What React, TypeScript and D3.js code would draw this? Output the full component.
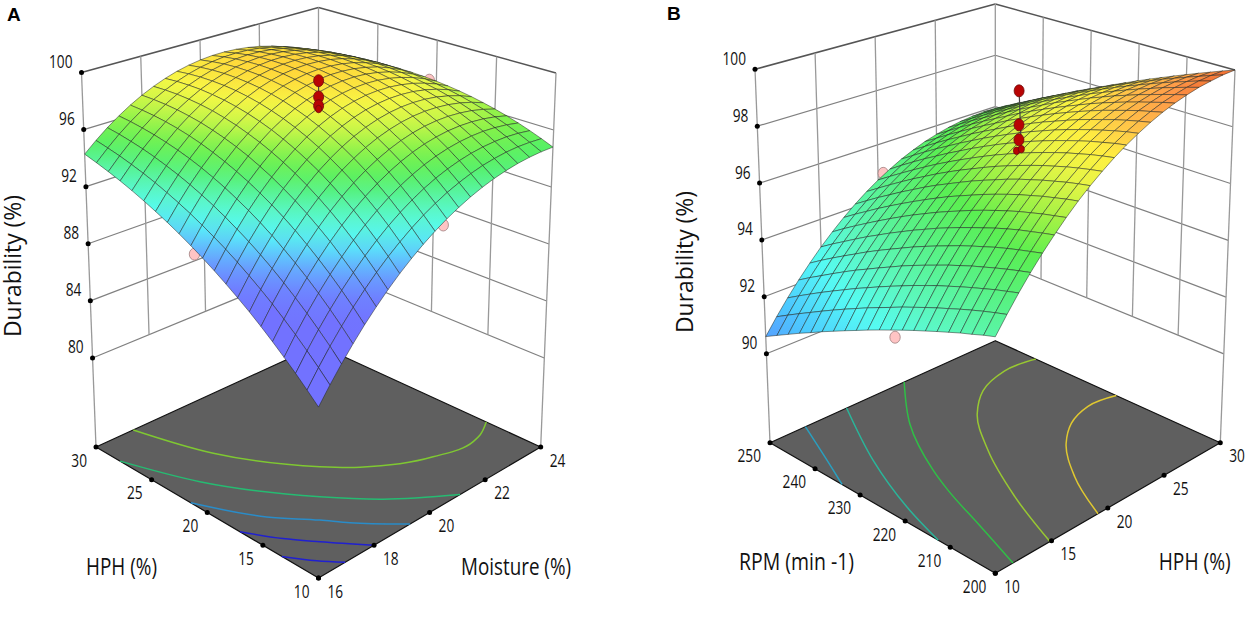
import * as d3 from 'd3';

// Tick labels
const moistureTicks = [16, 18, 20, 22, 24];
const hphTicks = [10, 15, 20, 25, 30];
const rpmTicks = [200, 210, 220, 230, 240, 250];
const durabilityTicksA = [80, 84, 88, 92, 96, 100];
const durabilityTicksB = [90, 92, 94, 96, 98, 100];

// Panel A surface: one row per moisture step (16 to 24), one column per HPH step (10 to 30)
const durabilityA = [
  [84.49,85.21,85.91,86.58,87.23,87.86,88.46,89.03,89.58,90.11,90.61,91.09,91.54,91.97,92.37,92.75,93.11,93.44,93.74,94.02,94.28],
  [85.53,86.28,87.00,87.69,88.35,88.99,89.59,90.16,90.71,91.23,91.71,92.17,92.60,93.00,93.37,93.72,94.03,94.31,94.57,94.79,94.99],
  [86.51,87.29,88.02,88.73,89.40,90.04,90.65,91.22,91.76,92.26,92.74,93.18,93.58,93.96,94.30,94.60,94.88,95.12,95.32,95.50,95.64],
  [87.44,88.23,88.98,89.70,90.38,91.02,91.62,92.19,92.72,93.22,93.67,94.10,94.48,94.83,95.14,95.41,95.64,95.84,96.00,96.13,96.22],
  [88.32,89.12,89.88,90.60,91.28,91.92,92.53,93.09,93.61,94.09,94.53,94.93,95.29,95.61,95.90,96.14,96.34,96.50,96.62,96.70,96.74],
  [89.13,89.94,90.71,91.43,92.12,92.75,93.35,93.90,94.41,94.88,95.30,95.69,96.03,96.32,96.57,96.79,96.95,97.08,97.16,97.20,97.20],
  [89.90,90.71,91.48,92.20,92.88,93.51,94.10,94.64,95.14,95.59,96.00,96.36,96.67,96.95,97.17,97.36,97.49,97.58,97.63,97.63,97.59],
  [90.61,91.42,92.18,92.90,93.57,94.19,94.77,95.30,95.78,96.21,96.60,96.95,97.24,97.49,97.69,97.85,97.95,98.02,98.03,98.00,97.92],
  [91.26,92.06,92.82,93.53,94.18,94.80,95.36,95.87,96.34,96.76,97.13,97.45,97.72,97.95,98.13,98.26,98.34,98.37,98.36,98.30,98.19],
  [91.86,92.65,93.39,94.09,94.73,95.33,95.87,96.37,96.82,97.22,97.57,97.87,98.13,98.33,98.49,98.59,98.65,98.66,98.62,98.53,98.39],
  [92.40,93.18,93.90,94.58,95.20,95.78,96.31,96.79,97.22,97.60,97.93,98.21,98.45,98.63,98.76,98.85,98.88,98.87,98.81,98.69,98.53],
  [92.89,93.64,94.35,95.00,95.61,96.16,96.67,97.13,97.54,97.90,98.21,98.47,98.68,98.84,98.96,99.02,99.04,99.00,98.92,98.79,98.61],
  [93.32,94.05,94.73,95.36,95.94,96.47,96.95,97.39,97.78,98.11,98.40,98.64,98.84,98.98,99.07,99.12,99.12,99.07,98.97,98.82,98.62],
  [93.70,94.39,95.04,95.64,96.20,96.70,97.16,97.57,97.93,98.25,98.51,98.73,98.91,99.03,99.11,99.14,99.12,99.05,98.94,98.78,98.57],
  [94.02,94.68,95.29,95.86,96.38,96.86,97.29,97.67,98.01,98.30,98.54,98.74,98.89,99.00,99.06,99.08,99.05,98.97,98.85,98.68,98.46],
  [94.29,94.91,95.48,96.01,96.50,96.94,97.34,97.69,98.00,98.27,98.49,98.67,98.80,98.89,98.94,98.94,98.90,98.81,98.68,98.50,98.29],
  [94.50,95.07,95.60,96.09,96.54,96.95,97.31,97.63,97.92,98.15,98.35,98.51,98.62,98.70,98.73,98.72,98.67,98.58,98.44,98.27,98.05],
  [94.66,95.18,95.66,96.11,96.51,96.88,97.21,97.50,97.75,97.96,98.13,98.27,98.37,98.42,98.44,98.42,98.36,98.27,98.13,97.96,97.75],
  [94.76,95.23,95.66,96.05,96.41,96.74,97.03,97.28,97.50,97.68,97.83,97.95,98.02,98.07,98.07,98.05,97.98,97.89,97.75,97.58,97.38],
  [94.81,95.21,95.59,95.93,96.24,96.52,96.77,96.99,97.17,97.33,97.45,97.54,97.60,97.63,97.63,97.59,97.53,97.43,97.30,97.14,96.95],
  [94.80,95.14,95.45,95.74,96.00,96.23,96.43,96.61,96.76,96.88,96.98,97.05,97.09,97.11,97.10,97.06,96.99,96.90,96.78,96.63,96.46],
];

// Panel B surface: one row per HPH step (10 to 30), one column per RPM step (200 to 250)
const durabilityB = [
  [94.33,94.21,94.07,93.94,93.79,93.64,93.48,93.32,93.15,92.97,92.79,92.60,92.40,92.20,91.99,91.78,91.55,91.33,91.09,90.85,90.60],
  [94.87,94.76,94.64,94.51,94.37,94.22,94.07,93.91,93.74,93.57,93.38,93.19,93.00,92.79,92.58,92.36,92.13,91.89,91.65,91.40,91.14],
  [95.39,95.28,95.17,95.04,94.91,94.77,94.62,94.47,94.30,94.13,93.94,93.75,93.55,93.34,93.13,92.90,92.67,92.43,92.18,91.92,91.65],
  [95.88,95.78,95.67,95.55,95.42,95.29,95.14,94.99,94.82,94.65,94.47,94.28,94.07,93.86,93.64,93.42,93.18,92.93,92.67,92.41,92.13],
  [96.34,96.24,96.14,96.03,95.91,95.77,95.63,95.48,95.31,95.14,94.96,94.77,94.56,94.35,94.13,93.90,93.65,93.40,93.14,92.87,92.58],
  [96.77,96.68,96.58,96.48,96.36,96.23,96.08,95.93,95.77,95.60,95.42,95.22,95.02,94.80,94.58,94.34,94.10,93.84,93.57,93.30,93.01],
  [97.18,97.09,97.00,96.89,96.78,96.65,96.51,96.36,96.20,96.02,95.84,95.65,95.44,95.23,95.00,94.76,94.51,94.25,93.98,93.70,93.40],
  [97.56,97.48,97.38,97.28,97.16,97.04,96.90,96.75,96.59,96.41,96.23,96.04,95.83,95.61,95.38,95.14,94.89,94.63,94.35,94.07,93.77],
  [97.91,97.83,97.74,97.63,97.52,97.39,97.26,97.11,96.94,96.77,96.59,96.39,96.18,95.97,95.74,95.49,95.24,94.97,94.70,94.41,94.11],
  [98.23,98.15,98.06,97.96,97.84,97.72,97.58,97.43,97.27,97.10,96.91,96.71,96.51,96.29,96.06,95.81,95.56,95.29,95.01,94.72,94.42],
  [98.53,98.45,98.36,98.25,98.14,98.01,97.87,97.72,97.56,97.38,97.20,97.00,96.79,96.57,96.34,96.10,95.84,95.57,95.29,95.00,94.70],
  [98.80,98.72,98.62,98.52,98.40,98.27,98.13,97.98,97.82,97.64,97.46,97.26,97.05,96.83,96.59,96.35,96.09,95.83,95.55,95.26,94.95],
  [99.04,98.96,98.86,98.75,98.63,98.50,98.36,98.21,98.04,97.87,97.68,97.48,97.27,97.05,96.81,96.57,96.31,96.05,95.77,95.48,95.18],
  [99.26,99.17,99.07,98.96,98.83,98.70,98.56,98.40,98.23,98.06,97.87,97.67,97.46,97.23,97.00,96.76,96.50,96.24,95.96,95.67,95.37],
  [99.45,99.35,99.25,99.13,99.00,98.87,98.72,98.56,98.39,98.21,98.02,97.82,97.61,97.39,97.15,96.91,96.66,96.39,96.12,95.83,95.54],
  [99.61,99.51,99.39,99.27,99.14,99.00,98.85,98.69,98.51,98.33,98.14,97.94,97.73,97.51,97.27,97.03,96.78,96.52,96.25,95.96,95.67],
  [99.74,99.63,99.51,99.38,99.25,99.10,98.95,98.78,98.61,98.42,98.23,98.03,97.81,97.59,97.36,97.12,96.87,96.61,96.35,96.07,95.78],
  [99.85,99.73,99.60,99.47,99.32,99.17,99.01,98.84,98.66,98.48,98.28,98.08,97.87,97.65,97.42,97.18,96.93,96.68,96.41,96.14,95.86],
  [99.92,99.80,99.66,99.52,99.37,99.21,99.04,98.87,98.69,98.50,98.30,98.10,97.89,97.67,97.44,97.20,96.96,96.71,96.45,96.19,95.91],
  [99.98,99.84,99.69,99.54,99.38,99.22,99.04,98.86,98.68,98.49,98.29,98.08,97.87,97.65,97.43,97.20,96.96,96.71,96.46,96.20,95.94],
  [100.00,99.85,99.69,99.53,99.36,99.19,99.01,98.83,98.64,98.44,98.24,98.03,97.82,97.61,97.38,97.15,96.92,96.68,96.44,96.19,95.93],
];

// Design points as [right axis, left axis, durability]
const aboveA = [[20, 20, 99.83], [20, 20, 98.7], [20, 20, 98.08], [20, 20, 97.85]];
const belowA = [[16, 20.7, 90.63], [20.28, 10, 92.58], [24, 20.6, 96.9]];
const aboveB = [[20, 220, 99.72], [20, 220, 98.54], [20, 220, 98.02], [19.8, 220, 97.67], [20.2, 220, 97.67]];
const belowB = [[10, 221.6, 92.8], [20.44, 250, 94.88]];

// Floor contours as [right axis, left axis]
const contoursA = [
  { color: '#7fc832', pts: [[17.34, 30], [18.09, 24.68], [19.6, 18.88], [20.3, 17], [21.91, 14.46], [23.1, 13.82], [23.44, 14.06], [24, 14.9]] },
  { color: '#26bb72', pts: [[16, 27.84], [16.87, 22.84], [18.6, 16.36], [19.64, 13.26], [21.1, 10]] },
  { color: '#2a8cc8', pts: [[16, 21.48], [16.97, 17.08], [17.84, 14.47], [18.29, 12.89], [19.3, 10]] },
  { color: '#2020d0', pts: [[16, 17.06], [16.58, 14.64], [17.15, 12.74], [18, 10]] },
  { color: '#2020d0', pts: [[16, 13.3], [16.5, 11.4], [16.96, 10]] },
];
const contoursB = [
  { color: '#2a9fbf', pts: [[13.14, 250], [11.36, 240.9], [10, 234]] },
  { color: '#2ab59a', pts: [[16.8, 250], [13.5, 235.85], [11.22, 222.7], [10, 212.65]] },
  { color: '#2fbf46', pts: [[21.91, 250], [18.38, 239.9], [15.46, 227.4], [14.48, 221.7], [13.12, 211.65], [11.57, 200]] },
  { color: '#98c832', pts: [[30, 241], [27.52, 241.7], [24.72, 239.5], [22.36, 234.9], [19.64, 225.7], [16.94, 213], [14.86, 200]] },
  { color: '#e0c830', pts: [[30, 223.1], [27.84, 224], [25.62, 222.15], [23.66, 218.4], [21.18, 210.3], [19.13, 200]] },
];

// Colour ramps
const stopsA = [89, 90.3, 91.3, 92.3, 93.6, 94.8, 96, 97, 98, 99, 100];
const rampA = ['#7272ff', '#6c8eff', '#5fc4ff', '#55fbf8', '#5cf6bc', '#52f068', '#80f24a', '#c8f648', '#f7f745', '#ffd83a', '#ffb432'];
const stopsB = [90.5, 91.5, 92.8, 93.8, 95, 96.2, 97, 97.9, 98.5, 99, 99.6, 100];
const rampB = ['#5a96ff', '#4cc8ff', '#55fbf5', '#5cf8c0', '#58f288', '#5aef50', '#a0f245', '#e8f545', '#fff040', '#ffc848', '#ff9a48', '#f06a30'];

type Pt = [number, number];
interface Box {
  front: Pt; right: Pt; left: Pt; back: Pt;
}

const FONT = '"Open Sans", sans-serif';

function bilerp(box: Box, a: number, b: number): Pt {
  const f = (k: 0 | 1) =>
    (1 - a) * (1 - b) * box.front[k] + a * (1 - b) * box.right[k] + (1 - a) * b * box.left[k] + a * b * box.back[k];
  return [f(0), f(1)];
}

function Num({ x, y, anchor, children }: { x: number; y: number; anchor: string; children: number }) {
  return (
    <text transform={`translate(${x},${y}) scale(0.72,1)`} textAnchor={anchor} fontFamily={FONT} fontSize={19} fill="#111">
      {children}
    </text>
  );
}

function Title({ x, y, w, rotate, children }: { x: number; y: number; w: number; rotate?: boolean; children: string }) {
  return (
    <text transform={`translate(${x},${y})${rotate ? ' rotate(-90)' : ''}`} textAnchor={rotate ? 'middle' : 'start'}
      fontFamily={FONT} fontSize={23} fill="#111" textLength={w} lengthAdjust="spacingAndGlyphs">
      {children}
    </text>
  );
}

interface PanelProps {
  id: string;
  floor: Box;
  top: Box;
  rightDomain: Pt;
  leftDomain: Pt;
  zFloor: number;
  rightTicks: number[];
  leftTicks: number[];
  zTicks: number[];
  values: number[][];
  stops: number[];
  ramp: string[];
  above: number[][];
  below: number[][];
  contours: { color: string; pts: number[][] }[];
}

function Panel(p: PanelProps) {
  const aScale = d3.scaleLinear().domain(p.rightDomain).range([0, 1]);
  const bScale = d3.scaleLinear().domain(p.leftDomain).range([0, 1]);
  const cScale = d3.scaleLinear().domain([p.zFloor, 100]).range([0, 1]);
  const color = d3.scaleLinear<string>().domain(p.stops).range(p.ramp).clamp(true);

  const project = (r: number, l: number, z: number): Pt => {
    const a = aScale(r), b = bScale(l), c = cScale(z);
    const f = bilerp(p.floor, a, b), t = bilerp(p.top, a, b);
    return [f[0] + (t[0] - f[0]) * c, f[1] + (t[1] - f[1]) * c];
  };

  const [r0, r1] = p.rightDomain;
  const [l0, l1] = p.leftDomain;
  const zMin = p.zTicks[0];
  const n = p.values.length - 1;
  const rAt = (i: number) => r0 + ((r1 - r0) * i) / n;
  const lAt = (j: number) => l0 + ((l1 - l0) * j) / n;
  const node = (i: number, j: number) => project(rAt(i), lAt(j), p.values[i][j]);
  const surfaceAt = (r: number, l: number) => p.values[Math.round(aScale(r) * n)][Math.round(bScale(l) * n)];

  const seg = (u: Pt, v: Pt, stroke: string, width: number, key: string) => (
    <line key={key} x1={u[0]} y1={u[1]} x2={v[0]} y2={v[1]} stroke={stroke} strokeWidth={width} />
  );

  const floorPath = d3.line()([p.floor.left, p.floor.front, p.floor.right, p.floor.back]) + 'Z';
  const contourLine = d3.line().curve(d3.curveCatmullRom.alpha(1));

  // far cells first so nearer ones cover them
  const cells: { i: number; j: number }[] = [];
  for (let i = n - 1; i >= 0; i--) for (let j = n - 1; j >= 0; j--) cells.push({ i, j });

  const dots = p.above.map((d) => ({
    q: project(d[0], d[1], d[2]),
    // points barely clear of the surface are half sunk into it
    k: d[2] - surfaceAt(d[0], d[1]) < 0.13 ? 0.62 : 1,
  }));

  return (
    <g>
      {/* back walls */}
      {p.zTicks.map((z) => (
        <g key={z}>
          {seg(project(r0, l1, z), project(r1, l1, z), z === 100 ? '#555' : '#808080', z === 100 ? 1.5 : 1.2, 'l')}
          {seg(project(r1, l1, z), project(r1, l0, z), z === 100 ? '#555' : '#808080', z === 100 ? 1.5 : 1.2, 'r')}
        </g>
      ))}
      {p.rightTicks.slice(1).map((t) => seg(project(t, l1, zMin), project(t, l1, 100), '#999', 1.3, `vr${t}`))}
      {p.leftTicks.slice(1, -1).map((t) => seg(project(r1, t, zMin), project(r1, t, 100), '#999', 1.3, `vl${t}`))}
      {seg(project(r0, l1, p.zFloor), project(r0, l1, 100), '#999', 1.3, 'axisL')}
      {seg(project(r1, l0, p.zFloor), project(r1, l0, 100), '#999', 1.3, 'axisR')}

      {p.below.map((d, k) => {
        const q = project(d[0], d[1], d[2]);
        return <ellipse key={k} cx={q[0]} cy={q[1]} rx={5.2} ry={6} fill="#ffc4c4" stroke="#a08080" strokeWidth={0.8} />;
      })}

      {/* floor */}
      <path d={floorPath} fill="#5f5f5f" stroke="#111" strokeWidth={1.2} strokeLinejoin="round" />
      {p.contours.map((c, k) => (
        <path key={k} d={contourLine(c.pts.map((q) => project(q[0], q[1], p.zFloor))) || ''} fill="none" stroke={c.color} strokeWidth={1.5} />
      ))}

      {/* response surface */}
      <defs>
        {cells.map(({ i, j }) => {
          const u = node(i, j), v = node(i + 1, j + 1);
          return (
            <linearGradient key={`${i}-${j}`} id={`${p.id}-${i}-${j}`} gradientUnits="userSpaceOnUse" x1={u[0]} y1={u[1]} x2={v[0]} y2={v[1]}>
              <stop offset="0" stopColor={color(p.values[i][j])} />
              <stop offset="1" stopColor={color(p.values[i + 1][j + 1])} />
            </linearGradient>
          );
        })}
      </defs>
      {cells.map(({ i, j }) => (
        <polygon key={`${i}-${j}`}
          points={[node(i, j), node(i + 1, j), node(i + 1, j + 1), node(i, j + 1)].map((q) => q.join(',')).join(' ')}
          fill={`url(#${p.id}-${i}-${j})`} stroke="#1d2420" strokeOpacity={0.72} strokeWidth={0.7} strokeLinejoin="round" />
      ))}

      {/* design points above the surface */}
      {seg(dots[0].q, dots[dots.length - 1].q, '#444', 1.2, 'stem')}
      {dots.map((d, k) => (
        <ellipse key={k} cx={d.q[0]} cy={d.q[1]} rx={5 * d.k} ry={6 * d.k} fill="#b80404" stroke="#6e0a0a" strokeWidth={0.8} />
      ))}

      {/* ticks and their labels */}
      {p.zTicks.map((z) => {
        const q = project(r0, l1, z);
        return (
          <g key={z}>
            <circle cx={q[0]} cy={q[1]} r={2.5} fill="#000" />
            <Num x={q[0] - 9} y={q[1] - 4.5} anchor="end">{z}</Num>
          </g>
        );
      })}
      {p.leftTicks.map((t) => {
        const q = project(r0, t, p.zFloor);
        return (
          <g key={t}>
            <circle cx={q[0]} cy={q[1]} r={2.5} fill="#000" />
            <Num x={q[0] - 9} y={q[1] + 19.5} anchor="end">{t}</Num>
          </g>
        );
      })}
      {p.rightTicks.map((t) => {
        const q = project(t, l0, p.zFloor);
        return (
          <g key={t}>
            <circle cx={q[0]} cy={q[1]} r={2.5} fill="#000" />
            <Num x={q[0] + 9} y={q[1] + 19.5} anchor="start">{t}</Num>
          </g>
        );
      })}
    </g>
  );
}

export default function App() {
  return (
    <svg width={1248} height={620} viewBox="0 0 1248 620" style={{ position: 'absolute', left: 0, top: 0, background: '#fff' }}>
      <Panel id="a"
        floor={{ front: [318.5, 578], right: [540.7, 447], left: [96, 447], back: [318.5, 345] }}
        top={{ front: [318.5, 160], right: [556, 73], left: [81.5, 72.5], back: [318.5, 7.5] }}
        rightDomain={[16, 24]} leftDomain={[10, 30]} zFloor={73.76}
        rightTicks={moistureTicks} leftTicks={hphTicks} zTicks={durabilityTicksA}
        values={durabilityA} stops={stopsA} ramp={rampA} above={aboveA} below={belowA} contours={contoursA} />
      <Panel id="b"
        floor={{ front: [995.3, 573.3], right: [1220.3, 442.7], left: [770, 442.7], back: [995.3, 340.7] }}
        top={{ front: [995.3, 157], right: [1235, 70], left: [755, 69.3], back: [995.3, 4] }}
        rightDomain={[10, 30]} leftDomain={[200, 250]} zFloor={86.87}
        rightTicks={hphTicks} leftTicks={rpmTicks} zTicks={durabilityTicksB}
        values={durabilityB} stops={stopsB} ramp={rampB} above={aboveB} below={belowB} contours={contoursB} />

      <text x={7} y={21} fontFamily='"Liberation Sans", Arial, sans-serif' fontWeight="bold" fontSize={19}>A</text>
      <text x={667} y={20} fontFamily='"Liberation Sans", Arial, sans-serif' fontWeight="bold" fontSize={19}>B</text>

      <Title x={20.5} y={266} w={142} rotate>Durability (%)</Title>
      <Title x={86} y={575} w={71}>HPH (%)</Title>
      <Title x={461} y={575} w={110}>Moisture (%)</Title>
      <Title x={692.7} y={262} w={142} rotate>Durability (%)</Title>
      <Title x={739} y={570} w={115}>RPM (min -1)</Title>
      <Title x={1158.7} y={570} w={72}>HPH (%)</Title>
    </svg>
  );
}
